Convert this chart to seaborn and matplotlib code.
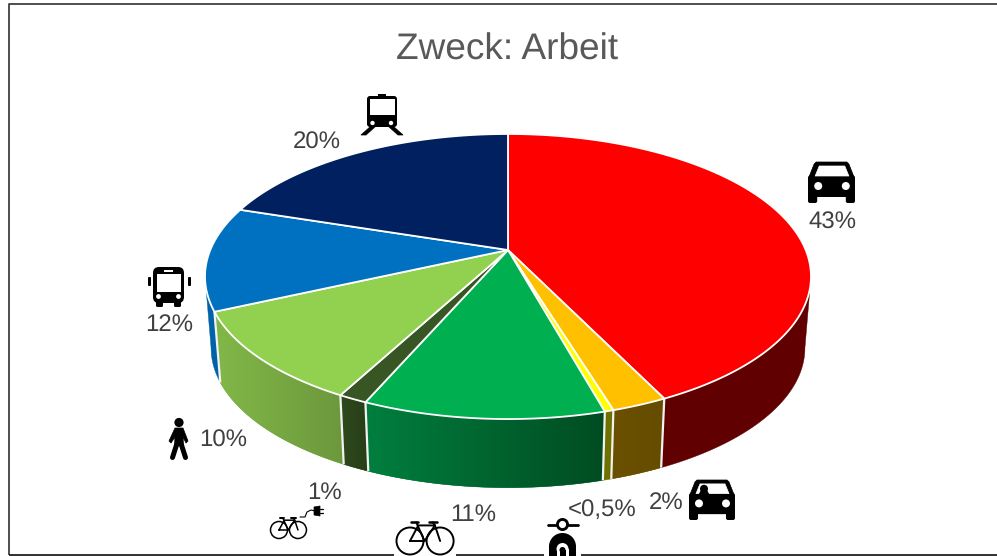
import numpy as np
import matplotlib
matplotlib.use("Agg")
import matplotlib.pyplot as plt
import matplotlib.colors as mcolors
from matplotlib.patches import Circle, Polygon, Rectangle, FancyBboxPatch, Wedge
import seaborn as sns

modes = ["Auto", "Mitfahrer", "Moped", "Fahrrad", "E-Bike", "zu Fuss", "Bus", "Bahn"]
shares = [42.8, 2.5, 0.4, 10.8, 1.3, 10.4, 11.8, 20.0]
labels = ["43%", "2%", "<0,5%", "11%", "1%", "10%", "12%", "20%"]
top_colors = ["#FF0000", "#FFC000", "#FFFF00", "#00B050", "#375623", "#92D050", "#0070C0", "#002060"]
wall_left = ["#600000", "#6B5000", "#6E7000", "#007F3E", "#2F4A1D", "#82B848", "#0062A8", "#001A50"]
wall_right = ["#600000", "#664C00", "#6E7000", "#004C22", "#273D17", "#6C983C", "#0062A8", "#001A50"]
label_pos = [(832, 223), (666, 503), (602, 510), (473, 515), (325, 493), (223, 441), (169, 325), (317, 143)]

sns.set_theme(style="white")
plt.rcParams["font.family"] = ["Liberation Sans", "DejaVu Sans"]
plt.rcParams["text.hinting"] = "none"
plt.rcParams["text.hinting_factor"] = 1

fig, ax = plt.subplots(figsize=(9.97, 5.56), dpi=100)
ax.set_position([0, 0, 1, 1])
ax.axis("off")

# perspective circle, angle runs clockwise from the top
CX, CY = 508, 250
K, A, B = 0.186, 297.7, 137.6
DROP, SHRINK = 322, 0.98


def top_xy(theta):
    u, v = np.sin(theta), -np.cos(theta)
    w = 1 - K * v
    return CX + A * u / w, CY + B * v / w


def bottom_xy(theta):
    x, y = top_xy(theta)
    return CX + (x - CX) * SHRINK, DROP + (y - CY) * SHRINK


edges = np.cumsum([0] + shares) / sum(shares) * 2 * np.pi
palette = sns.color_palette(top_colors)
# where the outline turns away, walls behind these angles are hidden anyway
turn_r = np.arccos(-K)
turn_l = 2 * np.pi - turn_r

# side walls, gradient ones are an image clipped to the wall shape
for i in range(len(shares)):
    a, b = max(edges[i], turn_r), min(edges[i + 1], turn_l)
    if a >= b:
        continue
    th = np.linspace(a, b, 60)
    tx, ty = top_xy(th)
    bx, by = bottom_xy(th)
    px, py = np.r_[tx, bx[::-1]], np.r_[ty, by[::-1]]
    c0, c1 = np.array(mcolors.to_rgb(wall_left[i])), np.array(mcolors.to_rgb(wall_right[i]))
    mid = (c0 + c1) / 2
    shape = ax.fill(px, py, color=mid, lw=0.3, zorder=2)[0]
    if wall_left[i] != wall_right[i]:
        f = np.linspace(0, 1, 256)[None, :, None]
        img = c0[None, None, :] + (c1 - c0)[None, None, :] * f
        im = ax.imshow(img, extent=[px.min(), px.max(), py.max(), py.min()], aspect="auto", zorder=2.1,
                       interpolation="bilinear")
        im.set_clip_path(shape)

ax.set_xlim(0, 997)
ax.set_ylim(556, 0)

for e in edges:
    if np.pi / 2 < e < 3 * np.pi / 2:
        ax.plot([top_xy(e)[0], bottom_xy(e)[0]], [top_xy(e)[1], bottom_xy(e)[1]],
                color="#F2F2F2", lw=1.6, zorder=3, solid_capstyle="butt")

# top face
for i in range(len(shares)):
    th = np.linspace(edges[i], edges[i + 1], max(4, int(shares[i] * 6)))
    x, y = top_xy(th)
    ax.fill(np.r_[CX, x], np.r_[CY, y], facecolor=palette[i], edgecolor="white", lw=1.3,
            joinstyle="round", zorder=4)

ax.text(507, 50, "Zweck: Arbeit", ha="center", va="center", fontsize=26.7, color="#595959", zorder=6)
for lab, (x, y) in zip(labels, label_pos):
    ax.text(x, y, lab, ha="center", va="center", fontsize=17.3, color="#404040", zorder=6)

# chart frame
ax.plot([8.5, 8.5, 997], [555, 3.5, 3.5], color="#404040", lw=1.3, zorder=1, solid_capstyle="butt")
ax.plot([8.5, 997], [555, 555], color="#202020", lw=1.3, zorder=1, solid_capstyle="butt")


def add(p):
    p.set_zorder(7)
    ax.add_patch(p)


def poly(pts, c="black"):
    add(Polygon(pts, closed=True, facecolor=c, edgecolor=c, lw=0.5, joinstyle="round"))


def box(x, y, w, h, r=2, c="black"):
    add(FancyBboxPatch((x + r, y + r), w - 2 * r, h - 2 * r, boxstyle=f"round,pad={r}",
                       facecolor=c, edgecolor="none"))


def dot(x, y, r, c="black"):
    add(Circle((x, y), r, facecolor=c, edgecolor="none"))


def ring(x, y, r, lw=1.5):
    add(Circle((x, y), r, facecolor="none", edgecolor="black", lw=lw))


def seg(xs, ys, lw=1.2, c="black"):
    ax.plot(xs, ys, color=c, lw=lw, zorder=7, solid_capstyle="round", solid_joinstyle="round")


def car_icon(x, y, w, h, driver=False):
    # x, y is the top left corner of the icon
    sx, sy = w / 46, h / 41
    poly([(x + 6 * sx, y + 2 * sy), (x + 8 * sx, y), (x + 38 * sx, y), (x + 40 * sx, y + 2 * sy),
          (x + 45 * sx, y + 15 * sy), (x + 1 * sx, y + 15 * sy)])
    box(x, y + 13 * sy, w, 22 * sy, r=3)
    box(x, y + 30 * sy, 9 * sx, 11 * sy, r=2)
    box(x + w - 9 * sx, y + 30 * sy, 9 * sx, 11 * sy, r=2)
    poly([(x + 11 * sx, y + 4 * sy), (x + 36 * sx, y + 4 * sy), (x + 40 * sx, y + 14 * sy),
          (x + 7 * sx, y + 14 * sy)], c="white")
    dot(x + 10 * sx, y + 24 * sy, 4, c="white")
    dot(x + 37 * sx, y + 24 * sy, 4, c="white")
    if driver:
        dot(x + 15 * sx, y + 9 * sy, 4)
        poly([(x + 10 * sx, y + 15 * sy), (x + 12 * sx, y + 11 * sy), (x + 18 * sx, y + 11 * sy),
              (x + 20 * sx, y + 15 * sy)])


def bus_icon():
    box(148, 277, 3, 9, r=1)
    box(188, 277, 3, 9, r=1)
    box(153, 267, 31, 36, r=6)
    box(156, 301, 7, 6, r=1.5)
    box(174, 301, 7, 6, r=1.5)
    add(Rectangle((156.5, 274), 24, 18, facecolor="white", edgecolor="none"))
    add(Rectangle((164, 269.5), 9, 2, facecolor="white", edgecolor="none"))
    dot(158.5, 296.5, 2.4, c="white")
    dot(178.5, 296.5, 2.4, c="white")


def train_icon():
    add(Rectangle((378, 94), 8, 3, facecolor="black", edgecolor="none"))
    box(367, 96, 30, 31, r=3)
    add(Rectangle((369.5, 99), 25, 16, facecolor="white", edgecolor="none"))
    dot(372.5, 123, 2.2, c="white")
    dot(391, 123, 2.2, c="white")
    poly([(371, 126), (376, 126), (366, 135), (361, 135)])
    poly([(388, 126), (393, 126), (403, 135), (398, 135)])


def walker_icon():
    dot(179, 422.5, 4.6)
    poly([(175, 428), (183, 428), (188, 441), (186, 443), (183, 437), (183.5, 446), (174.5, 446), (175, 437),
          (171, 443), (169, 441)])
    seg([176.5, 172.5], [445, 457.5], lw=3.6)
    seg([181.5, 185.5], [445, 457.5], lw=3.6)


def bike_icon(x, y, r, lw):
    # x, y is the back wheel centre, icon scales with wheel radius
    s = r / 13
    d = 29 * s
    ring(x, y, r, lw)
    ring(x + d, y, r, lw)
    bb = (x + 14 * s, y)
    seg([x, x + 8 * s, x + 24 * s, bb[0], x], [y, y - 15 * s, y - 15 * s, y, y], lw)
    seg([x + 6 * s, bb[0]], [y - 18 * s, y], lw)
    seg([x + 24 * s, x + d], [y - 15 * s, y], lw)
    seg([x + 22 * s, x + 24 * s], [y - 18 * s, y - 15 * s], lw)
    seg([x + 18 * s, x + 26 * s], [y - 18 * s, y - 18 * s], lw * 1.3)
    seg([x + 1 * s, x + 8 * s], [y - 18 * s, y - 18 * s], lw * 1.3)


def scooter_icon():
    seg([547.5, 578], [525, 525], lw=2)
    dot(562.5, 524.5, 6.5)
    dot(562.5, 524.5, 3.6, c="white")
    add(Wedge((562.5, 546.5), 13.5, 180, 360, facecolor="black", edgecolor="none"))
    add(Rectangle((549, 546), 27, 10, facecolor="black", edgecolor="none"))
    add(Rectangle((556.5, 549), 12, 7, facecolor="white", edgecolor="none"))
    dot(562.5, 549, 6, c="white")
    add(Rectangle((559.5, 550), 6, 6, facecolor="black", edgecolor="none"))
    dot(562.5, 550, 3, c="black")


# gaps in the frame below the two icons that stick out
add(Rectangle((394, 549), 62, 7, facecolor="white", edgecolor="none"))
add(Rectangle((544, 549), 37, 7, facecolor="white", edgecolor="none"))

car_icon(808, 162, 47, 41)
car_icon(689, 480, 46, 40, driver=True)
bus_icon()
train_icon()
walker_icon()
bike_icon(410, 541, 13.5, 1.4)
bike_icon(279, 530, 8.5, 1.1)
seg([300, 305, 307, 311, 315], [517, 517, 512, 510, 511], lw=0.8)
poly([(314, 507), (320, 506), (320, 516), (314, 515)])
seg([320, 323], [509, 509], lw=0.9)
seg([320, 323], [513, 513], lw=0.9)
scooter_icon()

fig.savefig("out.png", dpi=100, facecolor="white")
